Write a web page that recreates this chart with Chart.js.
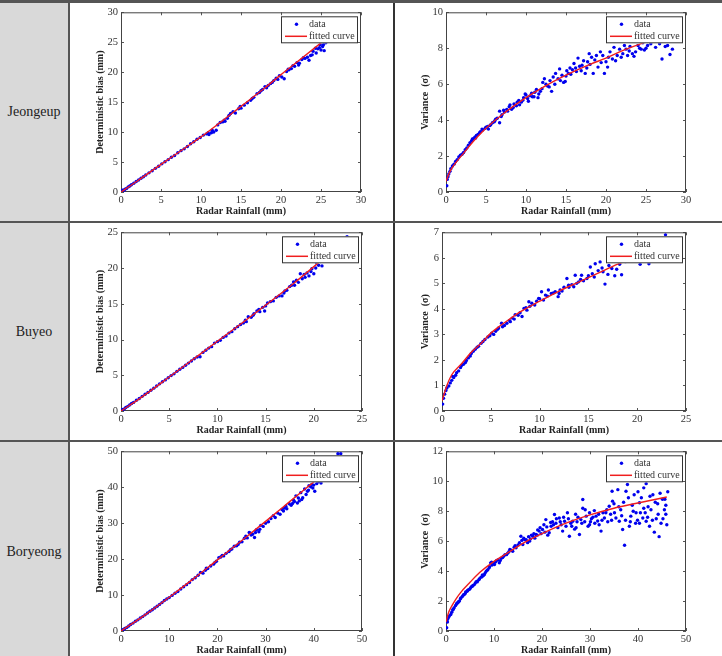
<!DOCTYPE html>
<html>
<head>
<meta charset="utf-8">
<script src="https://cdn.jsdelivr.net/npm/chart.js@4.4.1/dist/chart.umd.min.js"></script>
<style>
  html, body { margin: 0; padding: 0; background: #fff; }
  #sheet { position: relative; width: 722px; height: 656px; overflow: hidden; background: #fff; }
  .rule { position: absolute; background: #555; }
  .station { position: absolute; left: 0; width: 68px; text-align: center; font: 14px 'Liberation Serif', 'Times New Roman', serif; color: #222; line-height: 16px; }
  canvas { position: absolute; }
</style>
</head>
<body>
<div id="sheet">
  <div class="rule" style="left:0;top:3px;width:68px;height:653px;background:#d9d9d9"></div>
  <div class="rule" style="left:0;top:0;width:722px;height:3px"></div>
  <div class="rule" style="left:68px;top:3px;width:2px;height:653px"></div>
  <div class="rule" style="left:393px;top:3px;width:2px;height:653px;background:#333"></div>
  <div class="rule" style="left:0;top:221px;width:722px;height:2px"></div>
  <div class="rule" style="left:0;top:440px;width:722px;height:2px"></div>
</div>
<script>
const stations = ['Jeongeup', 'Buyeo', 'Boryeong'];
const legendLabels = ['data', 'fitted curve'];
const xTitle = 'Radar Rainfall (mm)';
const biasTitle = 'Deterministic bias (mm)';
const varianceTitle = 'Variance  (σ)';

// tick values
const ticks0to30by5 = [0, 5, 10, 15, 20, 25, 30];
const ticks0to10by2 = [0, 2, 4, 6, 8, 10];
const ticks0to25by5 = [0, 5, 10, 15, 20, 25];
const ticks0to7by1 = [0, 1, 2, 3, 4, 5, 6, 7];
const ticks0to50by10 = [0, 10, 20, 30, 40, 50];
const ticks0to12by2 = [0, 2, 4, 6, 8, 10, 12];

// Jeongeup - deterministic bias
const jeongeupBiasPoints = [[0.1,0.1],[0.2,0.3],[0.35,0.3],[0.5,0.45],[0.7,0.6],[0.9,0.85],[1.1,1.0],[1.3,1.2],[1.6,1.45],[1.9,1.75],[2.2,2.0],[2.5,2.3],[2.8,2.55],[3.1,2.85],[3.5,3.2],[3.9,3.55],[4.3,3.95],[4.7,4.3],[5.1,4.7],[5.5,5.05],[5.9,5.4],[6.3,5.8],[6.7,6.1],[7.1,6.55],[7.5,6.9],[7.9,7.2],[8.3,7.6],[8.7,8.05],[9.1,8.4],[9.5,8.8],[9.9,9.1],[10.3,9.5],[10.7,9.7],[11.0,9.6],[11.3,9.9],[11.6,10.0],[11.9,10.3],[12.1,11.2],[12.4,11.6],[12.7,11.7],[13.0,11.8],[13.3,12.3],[13.7,13.1],[14.0,13.4],[14.3,13.2],[14.7,13.9],[15.0,14.0],[15.4,14.5],[15.8,14.9],[16.2,15.3],[16.6,15.8],[17.0,16.4],[17.3,16.6],[17.7,17.1],[18.0,17.6],[18.4,17.8],[18.7,18.1],[19.1,18.6],[19.4,19.0],[19.8,19.4],[20.1,19.2],[20.4,18.9],[20.7,20.1],[21.0,20.4],[21.3,20.6],[21.7,21.0],[22.0,21.6],[22.3,21.5],[22.6,22.1],[23.0,22.3],[23.3,22.5],[23.7,22.8],[24.0,23.5],[24.3,24.0],[24.6,23.9],[24.9,24.6],[25.2,24.3],[25.4,23.6],[25.6,24.9],[25.8,25.3],[26.0,25.6],
    [20.9,20.5],[21.5,21.1],[22.2,21.2],[22.8,22.4],[23.5,22.0],[23.9,22.9],[24.4,23.2],[24.8,24.1],[25.0,23.7],[25.3,24.6],[16.4,15.6],[17.5,16.9],[18.2,17.4],[18.9,18.3],[19.6,18.8],[14.9,14.3],[13.5,12.8],[12.9,12.0],[11.4,10.3],[10.9,9.9]];
const jeongeupBiasCurve = [[0,0],[2,1.8],[5,4.6],[8,7.35],[10,9.2],[12,11.2],[15,14.3],[18,17.4],[20,19.6],[22,21.7],[25,24.9],[26.2,26.2]];

// Jeongeup - variance
const jeongeupVarPoints = [[0.1,0.35],[0.15,0.7],[0.25,0.85],[0.35,1.0],[0.5,1.15],[0.6,1.3],[0.8,1.45],[1.0,1.55],[1.2,1.7],[1.4,1.8],[1.6,1.95],[1.8,2.05],[2.0,2.1],[2.2,2.2],[2.4,2.35],[2.6,2.45],[2.8,2.6],[3.0,2.75],[3.2,2.85],[3.4,2.95],[3.6,3.05],[3.8,3.15],[4.0,3.2],[4.3,3.35],[4.6,3.45],[4.9,3.55],[5.2,3.65],[5.5,3.7],[5.8,3.85],[6.1,3.95],[6.4,4.1],[6.7,4.5],[6.7,3.85],[7.0,4.3],[7.3,4.45],[7.6,4.6],[7.9,4.75],[8.2,4.6],[8.5,4.9],[8.8,4.8],[9.1,5.1],[9.4,5.0],[9.7,5.25],[9.9,5.45],[10.2,5.2],[10.5,5.35],[10.7,5.5],[11.0,5.3],[11.3,5.7],[11.6,5.45],[11.8,5.6],[12.1,6.1],[12.3,6.3],[12.5,6.0],[12.9,5.85],[13.2,5.6],[13.4,6.4],[13.7,6.6],[14.0,6.3],[14.2,6.85],[14.5,6.5],[14.7,6.1],[14.9,6.15],[15.1,6.75],[15.3,6.6],[15.5,6.9],[15.8,6.8],[16.0,7.15],[16.3,6.7],[16.5,7.45],[16.7,7.0],[17.0,7.05],[17.4,6.6],[17.7,7.25],[17.9,7.7],[18.2,7.5],[18.4,6.6],[18.6,7.35],[19.0,6.95],[19.3,7.8],[19.6,7.6],[19.8,6.6],[20.0,7.25],[20.2,6.95],[20.5,7.8],[20.8,7.4],[21.0,8.05],[21.4,7.6],[21.7,7.95],[22.1,7.7],[22.3,8.15],[22.7,7.6],[22.9,7.85],[23.3,7.7],[23.7,7.8],[24.0,8.15],[24.4,7.95],[24.8,7.9],[25.2,8.15],[25.6,8.25],[26.2,8.05],[26.7,8.25],[27.0,7.4],[27.4,8.1],[27.7,8.15],[28.0,7.65],[28.3,7.95],
    [3.3,2.95],[3.7,3.0],[4.2,3.3],[4.5,3.5],[5.0,3.6],[5.3,3.5],[5.6,3.75],[6.0,3.9],[6.2,4.05],[6.9,4.2],[7.2,4.55],[7.7,4.5],[8.0,4.85],[8.4,4.7],[8.9,5.0],[9.2,4.85],[9.6,5.1],[10.0,5.4],[10.3,5.05],[10.8,5.3],[11.1,5.55],[11.5,5.25],[12.0,5.75],[12.7,5.9],[13.0,6.2],[13.6,6.0],[14.3,6.2],[15.0,6.45],[15.6,6.55],[16.2,6.9],[16.9,6.75],[17.2,7.3],[17.6,6.9],[18.0,7.1],[18.8,7.6],[19.4,7.2],[20.3,7.5],[21.2,7.3],[21.9,7.5],[22.5,7.95],[23.0,8.1],[23.5,7.55],[24.2,8.0],[24.6,8.3],[25.0,8.0]];
const jeongeupVarCurve = [[0,0.6],[0.5,1.15],[1,1.5],[2,2.05],[3,2.6],[4,3.1],[5,3.55],[7,4.3],[10,5.25],[12,5.8],[15,6.5],[18,7.1],[20,7.45],[22,7.85],[25,8.35],[28.3,8.85]];

// Buyeo - deterministic bias
const buyeoBiasPoints = [[0.1,0.15],[0.2,0.2],[0.35,0.3],[0.5,0.5],[0.7,0.65],[0.9,0.85],[1.1,1.05],[1.3,1.2],[1.6,1.5],[1.9,1.75],[2.2,2.05],[2.5,2.35],[2.8,2.6],[3.1,2.9],[3.4,3.2],[3.7,3.5],[4.0,3.8],[4.3,4.1],[4.6,4.35],[4.9,4.65],[5.2,4.95],[5.5,5.2],[5.8,5.55],[6.1,5.85],[6.4,6.1],[6.7,6.4],[7.0,6.7],[7.3,7.0],[7.6,7.3],[7.9,7.55],[8.2,7.6],[8.5,8.2],[8.8,8.5],[9.1,8.8],[9.4,9.0],[9.7,9.5],[10.0,9.7],[10.3,9.9],[10.6,10.3],[10.9,10.5],[11.2,10.9],[11.5,11.1],[11.8,11.5],[12.1,11.8],[12.4,12.1],[12.7,12.3],[13.0,12.5],[13.2,13.2],[13.5,13.1],[13.8,13.6],[14.1,14.0],[14.4,13.9],[14.7,14.5],[14.9,14.0],[15.2,15.1],[15.5,15.3],[15.8,15.4],[16.1,15.9],[16.4,16.1],[16.7,16.1],[17.0,16.8],[17.2,16.9],[17.5,17.4],[17.9,18.05],[18.2,18.3],[18.6,19.2],[18.8,18.5],[19.1,18.7],[19.3,19.3],[19.5,18.9],[19.8,19.9],[20.0,19.2],[20.3,20.7],[20.5,20.4],[20.85,20.3],[21.0,21.2],[23.45,24.4],
    [16.9,16.5],[17.7,17.6],[18.0,17.6],[18.4,18.0],[19.0,19.1],[19.7,19.5],[20.2,20.0],[20.7,20.9],[15.0,14.7],[14.3,14.2],[13.7,13.4],[12.9,12.7]];
const buyeoBiasCurve = [[0,0],[2,1.8],[5,4.75],[8,7.75],[10,9.75],[12,11.75],[15,14.8],[18,17.95],[20,20.2],[21.5,21.9]];

// Buyeo - variance
const buyeoVarPoints = [[0.07,0.27],[0.15,0.5],[0.27,0.66],[0.4,0.8],[0.5,0.9],[0.7,0.98],[0.85,1.1],[1.0,1.2],[1.2,1.31],[1.4,1.4],[1.7,1.57],[1.9,1.7],[2.2,1.83],[2.4,1.9],[2.7,2.08],[2.9,2.15],[3.2,2.34],[3.4,2.42],[3.75,2.54],[4.0,2.65],[4.4,2.8],[4.7,2.9],[5.1,3.05],[5.5,3.12],[5.8,3.25],[6.1,3.44],[6.4,3.35],[6.65,3.44],[6.9,3.55],[7.2,3.64],[7.5,3.77],[7.8,3.75],[8.2,3.7],[8.4,4.02],[8.7,3.95],[8.9,4.28],[9.2,4.22],[9.5,4.15],[9.9,4.41],[10.2,4.67],[10.4,4.35],[10.6,4.54],[10.9,4.74],[11.2,4.6],[11.6,4.67],[11.9,4.48],[12.1,4.74],[12.5,4.85],[12.8,5.19],[12.97,4.93],[13.3,4.95],[13.5,4.87],[13.65,5.32],[14.0,5.06],[14.3,5.32],[14.5,5.1],[14.85,5.19],[15.2,5.64],[15.4,5.38],[15.7,5.77],[16.0,5.5],[16.2,5.84],[16.5,5.45],[16.7,4.97],[17.1,5.7],[17.4,5.58],[17.7,5.3],[18.0,5.9],[18.4,5.34],[18.8,5.85],[19.5,5.9],[20.3,5.75],[21.2,5.77],[22.9,6.9],
    [1.1,1.35],[1.5,1.5],[2.0,1.78],[2.5,1.98],[3.0,2.25],[3.6,2.5],[4.2,2.72],[4.9,2.95],[5.3,3.0],[5.7,3.2],[6.2,3.3],[7.0,3.5],[7.4,3.6],[8.0,3.85],[8.6,4.05],[9.0,4.1],[9.7,4.3],[10.0,4.4],[10.8,4.5],[11.4,4.62],[12.0,4.6],[12.3,4.7],[13.0,4.85],[13.8,5.0],[14.2,5.15],[15.0,5.3],[15.6,5.25],[16.4,5.6],[17.0,5.35],[17.9,5.55],[18.2,5.75]];
const buyeoVarCurve = [[0,0.4],[0.5,1.0],[1,1.42],[2,1.85],[3,2.3],[4,2.65],[5,3.05],[6,3.35],[7,3.62],[8,3.88],[10,4.3],[12,4.7],[14,5.05],[16,5.4],[18,5.75],[20,6.05],[23,6.45]];

// Boryeong - deterministic bias
const boryeongBiasPoints = [[0.2,0.2],[0.5,0.4],[0.8,0.7],[1.2,1.0],[1.6,1.4],[2.0,1.8],[2.5,2.2],[3.0,2.7],[3.5,3.1],[4.0,3.6],[4.5,4.0],[5.0,4.5],[5.5,5.0],[6.0,5.5],[6.5,5.9],[7.0,6.4],[7.5,6.9],[8.0,7.4],[8.5,7.9],[9.0,8.5],[9.5,8.9],[10.0,9.3],[10.6,9.9],[11.2,10.5],[11.8,11.0],[12.4,11.7],[13.0,12.3],[13.6,12.9],[14.2,13.5],[14.8,14.3],[15.4,14.8],[16.0,15.5],[16.5,16.3],[17.0,16.1],[17.5,16.9],[18.0,17.4],[18.6,18.1],[19.2,18.6],[19.8,19.4],[20.3,20.4],[20.7,20.6],[21.3,20.9],[21.8,21.6],[22.4,22.1],[23.0,22.8],[23.5,23.6],[24.0,23.7],[24.6,24.7],[25.1,24.8],[25.6,25.8],[26.2,25.9],[26.6,27.4],[27.0,26.7],[27.3,26.9],[27.7,26.0],[28.1,28.2],[28.6,27.6],[29.0,29.4],[29.5,29.1],[30.0,30.0],[30.6,30.4],[31.1,31.3],[31.6,32.1],[32.0,31.6],[32.5,32.8],[33.0,32.5],[33.4,33.8],[33.9,34.2],[34.4,34.0],[34.9,35.4],[35.3,35.0],[35.8,36.4],[36.3,37.6],[36.6,35.6],[37.0,36.2],[37.3,38.5],[37.7,37.1],[38.1,39.5],[38.7,38.9],[39.0,40.4],[39.4,40.1],[39.8,39.8],[40.2,38.9],[41.0,41.5],[41.5,41.2],[45.0,49.3],[45.6,49.3],
    [33.7,33.4],[34.2,34.7],[35.6,35.5],[36.0,36.0],[36.8,37.0],[37.5,36.6],[38.4,38.0],[38.9,39.2],[39.6,40.8],[40.0,40.6],[40.6,41.0],[27.9,27.4],[28.8,28.3],[26.9,27.2],[25.9,26.4],[24.3,24.1],[22.7,22.6],[21.0,21.0],[19.5,19.1],[17.7,17.5]];
const boryeongBiasCurve = [[0,0],[5,4.5],[10,9.4],[15,14.5],[20,19.8],[25,25.1],[30,30.5],[35,36.0],[40,41.5],[42,43.7]];

// Boryeong - variance
const boryeongVarPoints = [[0.14,0.22],[0.3,0.6],[0.35,0.78],[0.5,0.9],[0.7,1.0],[1.0,1.1],[1.2,1.25],[1.4,1.4],[1.7,1.56],[2.0,1.7],[2.3,1.85],[2.6,1.95],[2.8,2.0],[3.1,2.2],[3.4,2.3],[3.8,2.44],[4.1,2.6],[4.5,2.7],[4.9,2.78],[5.3,2.95],[5.6,3.05],[5.9,3.1],[6.3,3.3],[6.6,3.35],[6.9,3.44],[7.3,3.6],[7.6,3.75],[8.0,3.78],[8.4,4.0],[8.7,4.1],[9.0,4.22],[9.3,4.55],[9.6,4.4],[10.1,4.44],[10.5,4.7],[11.1,4.56],[11.5,4.85],[11.8,4.9],[12.3,5.1],[12.85,5.2],[13.3,5.45],[13.9,5.33],[14.2,5.6],[14.6,5.56],[15.0,5.75],[15.6,6.33],[16.0,5.78],[16.4,6.1],[16.7,6.1],[17.0,5.9],[17.4,6.0],[17.8,6.4],[18.1,6.33],[18.5,6.2],[18.75,6.44],[19.1,6.75],[19.4,6.67],[19.8,6.5],[20.1,6.78],[20.4,7.1],[20.8,7.44],[21.2,6.4],[21.5,6.56],[21.9,7.0],[22.2,7.3],[22.6,7.78],[22.9,7.2],[23.3,6.9],[23.6,7.55],[24.0,7.1],[24.3,6.67],[24.7,7.33],[25.0,7.0],[25.3,7.9],[25.7,6.33],[26.0,7.2],[26.4,7.33],[26.8,6.8],[27.1,6.9],[27.5,7.6],[27.8,6.44],[28.1,7.44],[28.5,8.2],[28.5,8.78],[28.9,7.3],[29.2,7.67],[29.6,7.0],[29.9,7.9],[29.9,7.1],[30.3,7.5],[30.9,8.04],[31.25,7.67],[31.6,7.35],[31.9,7.1],[32.3,6.67],[32.7,7.9],[33.0,7.55],[33.3,7.9],[33.7,7.3],[34.0,8.33],[34.3,7.8],[34.6,9.33],[34.7,8.67],[35.1,7.9],[35.4,7.55],[35.8,9.44],[36.1,7.33],[36.4,8.1],[36.8,6.78],[37.2,5.73],[37.5,9.33],[37.8,9.78],[38.2,7.0],[38.5,7.67],[38.8,8.4],[39.2,9.1],[39.6,7.9],[39.9,7.4],[40.3,8.56],[40.3,7.2],[40.7,8.9],[41.0,7.55],[41.2,9.56],[41.5,7.9],[41.7,9.84],[41.7,7.33],[42.1,8.3],[42.4,7.0],[42.7,8.1],[43.1,9.1],[43.4,6.6],[43.8,7.5],[44.1,8.5],[44.4,6.3],[44.8,7.2],[45.1,8.8],[45.5,8.1],[45.6,8.8],[45.8,7.8],[46.0,7.1],[46.2,9.3],
    [1.5,1.45],[2.2,1.8],[2.5,1.9],[3.0,2.15],[3.6,2.4],[4.0,2.5],[4.4,2.65],[4.7,2.75],[5.1,2.88],[5.5,2.98],[6.1,3.2],[6.5,3.28],[7.0,3.5],[7.5,3.62],[7.8,3.7],[8.2,3.9],[8.6,4.05],[9.1,4.3],[9.5,4.6],[9.9,4.55],[10.3,4.6],[10.8,4.75],[11.3,4.7],[12.0,5.0],[12.6,5.1],[13.1,5.3],[13.6,5.4],[14.4,5.7],[15.3,5.9],[15.8,6.05],[16.2,6.2],[17.2,6.3],[17.6,6.15],[18.3,6.5],[19.0,6.4],[19.6,6.9],[20.6,6.6],[21.0,6.95],[21.8,7.25],[22.4,7.1],[23.0,7.5],[23.8,7.3],[24.5,7.6],[25.5,7.5],[26.2,7.0],[27.0,7.8],[27.3,7.3],[28.3,7.2],[29.0,8.1],[30.1,7.3],[30.6,7.6],[31.0,7.2],[31.8,7.8],[32.5,7.4],[33.5,8.1],[34.5,7.4],[35.0,8.5],[36.0,8.3],[36.6,7.7],[37.0,8.6],[37.4,7.4],[38.0,8.9],[38.4,7.3],[39.0,8.0],[39.5,7.2],[40.0,9.3],[40.5,7.9],[41.2,8.2],[42.0,7.6],[42.5,9.0],[43.0,7.4],[43.6,8.6],[44.2,7.8],[44.6,9.2],[45.2,7.5],[45.8,8.4]];
const boryeongVarCurve = [[0,0.6],[0.5,1.2],[1,1.55],[2,2.1],[3,2.55],[5,3.25],[7,3.9],[10,4.65],[13,5.25],[16,5.85],[20,6.5],[25,7.2],[30,7.75],[35,8.2],[40,8.55],[46,8.95]];

const serif = "'Liberation Serif', 'Times New Roman', serif";
const sheet = document.getElementById('sheet');

// placement of each panel on the page (cell box, plot box, title centres)
const panels = [
    { points: jeongeupBiasPoints, curve: jeongeupBiasCurve, xTicks: ticks0to30by5, yTicks: ticks0to30by5, yTitle: biasTitle,
      cell: { x: 70, y: 3, w: 323, h: 217 }, area: { l: 121, t: 11, r: 361, b: 192 }, yTitleX: 100, xTitleY: 211 },
    { points: jeongeupVarPoints, curve: jeongeupVarCurve, xTicks: ticks0to30by5, yTicks: ticks0to10by2, yTitle: varianceTitle,
      cell: { x: 395, y: 3, w: 327, h: 217 }, area: { l: 446, t: 11, r: 686, b: 192 }, yTitleX: 425, xTitleY: 211 },
    { points: buyeoBiasPoints, curve: buyeoBiasCurve, xTicks: ticks0to25by5, yTicks: ticks0to25by5, yTitle: biasTitle,
      cell: { x: 70, y: 223, w: 323, h: 216 }, area: { l: 121, t: 230, r: 362, b: 411 }, yTitleX: 100, xTitleY: 430 },
    { points: buyeoVarPoints, curve: buyeoVarCurve, xTicks: ticks0to25by5, yTicks: ticks0to7by1, yTitle: varianceTitle,
      cell: { x: 395, y: 223, w: 327, h: 216 }, area: { l: 442, t: 231, r: 686, b: 411 }, yTitleX: 425, xTitleY: 430 },
    { points: boryeongBiasPoints, curve: boryeongBiasCurve, xTicks: ticks0to50by10, yTicks: ticks0to50by10, yTitle: biasTitle,
      cell: { x: 70, y: 442, w: 323, h: 214 }, area: { l: 121, t: 450, r: 362, b: 631 }, yTitleX: 100, xTitleY: 650 },
    { points: boryeongVarPoints, curve: boryeongVarCurve, xTicks: ticks0to50by10, yTicks: ticks0to12by2, yTitle: varianceTitle,
      cell: { x: 395, y: 442, w: 327, h: 214 }, area: { l: 446, t: 451, r: 686, b: 631 }, yTitleX: 425, xTitleY: 650 },
];

const stationCentres = [112, 332, 552];
stations.forEach((name, i) => {
    const label = document.createElement('div');
    label.className = 'station';
    label.style.top = `${stationCentres[i] - 8}px`;
    label.textContent = name;
    sheet.appendChild(label);
});

// MATLAB-like box with inward ticks, plus the boxed legend in the top right corner
const matlabBox = {
    id: 'matlabBox',
    beforeDatasetsDraw(chart) {
        const { ctx, chartArea: a, scales } = chart;
        ctx.save();
        ctx.strokeStyle = '#555';
        ctx.lineWidth = 1;
        ctx.beginPath();
        scales.x.ticks.forEach((t) => {
            const px = Math.round(scales.x.getPixelForValue(t.value)) + 0.5;
            ctx.moveTo(px, a.bottom);
            ctx.lineTo(px, a.bottom - 3);
            ctx.moveTo(px, a.top);
            ctx.lineTo(px, a.top + 3);
        });
        scales.y.ticks.forEach((t) => {
            const py = Math.round(scales.y.getPixelForValue(t.value)) + 0.5;
            ctx.moveTo(a.left, py);
            ctx.lineTo(a.left + 3, py);
            ctx.moveTo(a.right, py);
            ctx.lineTo(a.right - 3, py);
        });
        ctx.stroke();
        ctx.strokeStyle = '#444';
        ctx.strokeRect(a.left + 0.5, a.top + 0.5, a.right - a.left - 1, a.bottom - a.top - 1);
        ctx.restore();
    },
    afterDatasetsDraw(chart) {
        const { ctx, chartArea: a } = chart;
        const [dataSet, curveSet] = [chart.data.datasets[1], chart.data.datasets[0]];
        const left = a.right - 80;
        const top = a.top + 4;
        ctx.save();
        ctx.fillStyle = '#fff';
        ctx.fillRect(left, top, 77, 27);
        ctx.strokeStyle = '#333';
        ctx.lineWidth = 1;
        ctx.strokeRect(left + 0.5, top + 0.5, 76, 26);

        ctx.fillStyle = dataSet.backgroundColor;
        ctx.beginPath();
        ctx.arc(left + 15.5, top + 8, 1.7, 0, Math.PI * 2);
        ctx.fill();

        ctx.strokeStyle = curveSet.borderColor;
        ctx.lineWidth = 1.5;
        ctx.beginPath();
        ctx.moveTo(left + 4, top + 20);
        ctx.lineTo(left + 26, top + 20);
        ctx.stroke();

        ctx.fillStyle = '#333';
        ctx.font = `10px ${serif}`;
        ctx.textBaseline = 'middle';
        ctx.fillText(dataSet.label, left + 28, top + 8);
        ctx.fillText(curveSet.label, left + 28, top + 20);
        ctx.restore();
    },
};

const makePanel = (panel) => {
    const { cell, area } = panel;
    const canvas = document.createElement('canvas');
    canvas.width = cell.w;
    canvas.height = cell.h;
    canvas.style.left = `${cell.x}px`;
    canvas.style.top = `${cell.y}px`;
    sheet.appendChild(canvas);

    const pad = {
        left: panel.yTitleX - cell.x - 6,
        top: area.t - cell.y,
        right: cell.x + cell.w - area.r,
        bottom: cell.y + cell.h - panel.xTitleY - 6,
    };
    const yWidth = area.l - cell.x - pad.left;
    const xHeight = panel.xTitleY + 6 - area.b;

    const axis = (values, title) => ({
        type: 'linear',
        min: values[0],
        max: values[values.length - 1],
        grid: { display: false, drawTicks: false },
        border: { display: false },
        afterBuildTicks: (scale) => {
            scale.ticks = values.map((value) => ({ value }));
        },
        ticks: {
            autoSkip: false,
            maxRotation: 0,
            color: '#333',
            font: { family: serif, size: 10.5 },
        },
        title: {
            display: true,
            text: title,
            color: '#222',
            padding: 0,
            font: { family: serif, size: 10, weight: 'bold', lineHeight: 1.2 },
        },
    });

    const xAxis = axis(panel.xTicks, xTitle);
    xAxis.ticks.padding = 2;
    xAxis.afterFit = (scale) => { scale.height = xHeight; };
    const yAxis = axis(panel.yTicks, panel.yTitle);
    yAxis.ticks.padding = 3;
    yAxis.afterFit = (scale) => { scale.width = yWidth; };

    return new Chart(canvas, {
        type: 'scatter',
        data: {
            datasets: [
                {
                    label: legendLabels[1],
                    data: panel.curve.map(([x, y]) => ({ x, y })),
                    showLine: true,
                    borderColor: '#f01e1e',
                    borderWidth: 1.4,
                    pointRadius: 0,
                    cubicInterpolationMode: 'monotone',
                    order: 0,
                },
                {
                    label: legendLabels[0],
                    data: panel.points.map(([x, y]) => ({ x, y })),
                    backgroundColor: '#0000ee',
                    borderWidth: 0,
                    pointRadius: 1.7,
                    order: 1,
                },
            ],
        },
        options: {
            responsive: false,
            animation: false,
            devicePixelRatio: 1,
            layout: { padding: pad },
            scales: { x: xAxis, y: yAxis },
            plugins: {
                legend: { display: false },
                tooltip: { enabled: false },
            },
        },
        plugins: [matlabBox],
    });
};

panels.forEach(makePanel);
</script>
</body>
</html>
